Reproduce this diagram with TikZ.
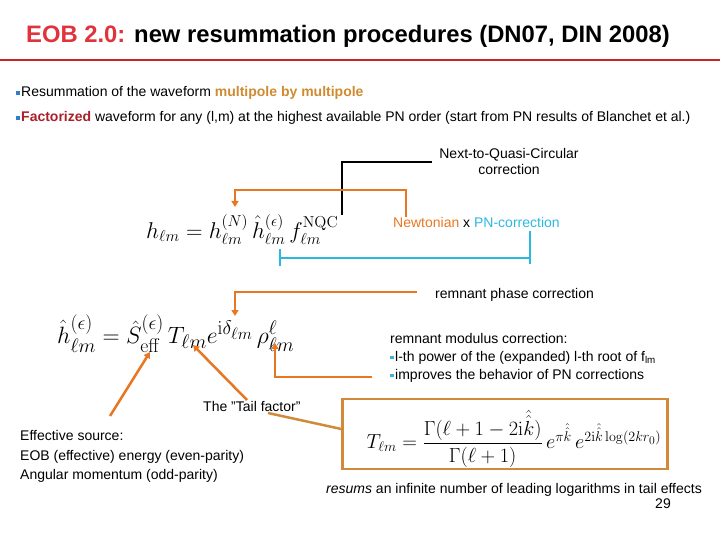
\documentclass[tikz,border=0pt]{standalone}
\usepackage{amsmath}
\usepackage{graphicx}
\usepackage[no-math]{fontspec}
\setmainfont{Liberation Sans}
\usetikzlibrary{arrows.meta}
\definecolor{titlered}{HTML}{E0333C}
\definecolor{linered}{HTML}{CC2222}
\definecolor{gold}{HTML}{D08A30}
\definecolor{darkred}{HTML}{A8202A}
\definecolor{orangeA}{HTML}{E87722}
\definecolor{boxbrown}{HTML}{D08A3A}
\definecolor{cyanA}{HTML}{2BB8E0}
\definecolor{bulblue}{HTML}{2E7FC8}
\definecolor{bulcyan}{HTML}{3CB4D8}
\newcommand{\bsq}[1]{{\color{#1}\rule[2pt]{3.5pt}{3.5pt}}\hspace{1.5pt}}
\begin{document}
\begin{tikzpicture}[x=1pt,y=-1pt,
  txt/.style={inner sep=0pt,anchor=base west,font=\fontsize{14}{16}\selectfont},
  eqn/.style={inner sep=0pt,anchor=base west},
  oarrow/.style={draw=orangeA,line width=2.5pt,-{Triangle[length=6pt,width=7pt]}},
  oline/.style={draw=orangeA,line width=2.5pt}]
\useasboundingbox (0,0) rectangle (720,540);
% title
\node[inner sep=0pt,anchor=base west,font=\fontsize{23.8}{26}\selectfont\bfseries] (title) at (26,43)
  {\textcolor{titlered}{EOB 2.0:} new resummation procedures (DN07, DIN 2008)};
\coordinate (rl) at (0,60); \coordinate (rr) at (720,60);
\draw[linered,line width=2.2pt] (rl) -- (rr);
% bullets
\node[txt] (b1) at (16,97)
  {\bsq{bulblue}Resummation of the waveform \textcolor{gold}{\bfseries multipole by multipole}};
\node[txt] (b2) at (16,122)
  {\bsq{bulblue}\textcolor{darkred}{\bfseries Factorized} waveform for any (l,m) at the highest available PN order (start from PN results of Blanchet et al.)};
% NQC label
\node[txt,anchor=base] (nqc1) at (509,159) {Next-to-Quasi-Circular};
\node[txt,anchor=base] (nqc2) at (509,175) {correction};
% equation 1
\node[eqn,font=\fontsize{20.74}{24}\selectfont] (eq1) at (146,238)
  {\scalebox{1.10}{$h_{\ell m} = h^{(N)}_{\ell m}\,\hat{h}^{(\epsilon)}_{\ell m}\,f^{\rm NQC}_{\ell m}$}};
\node[txt] (newt) at (393,227)
  {\textcolor{orangeA}{Newtonian} x \textcolor{cyanA}{PN-correction}};
% black connector
\coordinate (k1) at (342,215); \coordinate (k2) at (342,162); \coordinate (k3) at (432,162);
\draw[black,line width=1.5pt] (k1) -- (k2) -- (k3);
% orange connector Newtonian
\coordinate (n0) at (406,217); \coordinate (n1) at (235,207);
\draw[oarrow] (n0) -- (406,190) -| (n1);
% cyan bracket
\coordinate (c0) at (530,231); \coordinate (c1) at (530,264);
\coordinate (c2) at (280,249); \coordinate (c3) at (280,266);
\draw[cyanA,line width=2.5pt] (c0) -- (c1) (c2) -- (c3) (280,258) -- (530,258);
% phase correction
\node[txt] (phase) at (435,298) {remnant phase correction};
\coordinate (p0) at (417,292); \coordinate (p1) at (235,316);
\draw[oarrow] (p0) -| (p1);
% equation 2
\node[eqn,font=\fontsize{24.88}{28}\selectfont] (eq2) at (57,343)
  {\scalebox{0.95}{$\hat{h}^{(\epsilon)}_{\ell m} = \hat{S}^{(\epsilon)}_{\rm eff}\,T_{\ell m}e^{{\rm i}\delta_{\ell m}}\,\rho^{\ell}_{\ell m}$}};
% modulus
\node[txt] (mod1) at (390,343) {remnant modulus correction:};
\node[txt] (mod2) at (390,361) {\bsq{bulcyan}l-th power of the (expanded) l-th root of f\textsubscript{lm}};
\node[txt] (mod3) at (390,379) {\bsq{bulcyan}improves the behavior of PN corrections};
\coordinate (m0) at (372,377); \coordinate (m1) at (275,343);
\draw[oarrow] (m0) -| (m1);
% source arrow
\coordinate (s0) at (110,416); \coordinate (s1) at (150,352);
\draw[oarrow] (s0) -- (s1);
% tail arrow
\coordinate (t0) at (247,400); \coordinate (t1) at (193,345);
\draw[oarrow] (t0) -- (t1);
\node[txt] (tail) at (203,411) {The "Tail factor"};
% box
\node[draw=boxbrown,line width=2.5pt,minimum width=325pt,minimum height=70pt,inner sep=0pt] (box) at (505,434) {};
\node[inner sep=0pt,font=\fontsize{20.74}{24}\selectfont] (eq3) at (514,439)
  {\scalebox{0.98}{$T_{\ell m} = \dfrac{\Gamma(\ell+1-2{\rm i}\hat{\hat{k}})}{\Gamma(\ell+1)}\,e^{\pi\hat{\hat{k}}}\,e^{2{\rm i}\hat{\hat{k}}\log(2kr_0)}$}};
\coordinate (tl0) at (268,413);
\draw[boxbrown,line width=2.5pt] (tl0) -- (box.west |- 0,429);
% effective source
\node[txt] (src1) at (20,440) {Effective source:};
\node[txt] (src2) at (20,460) {EOB (effective) energy (even-parity)};
\node[txt] (src3) at (20,479) {Angular momentum (odd-parity)};
% bottom texts
\node[txt] (resums) at (326,493) {\textit{resums} an infinite number of leading logarithms in tail effects};
\node[txt,anchor=base east] (pg) at (671,508) {29};
\end{tikzpicture}
\end{document}
